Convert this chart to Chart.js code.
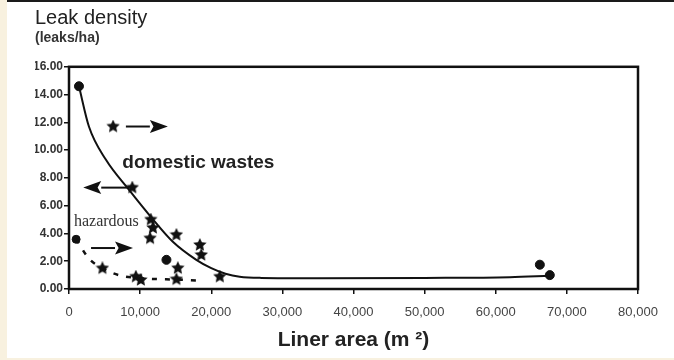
<!DOCTYPE html>
<html>
<head>
<meta charset="utf-8">
<title>Leak density vs liner area</title>
<script src="https://cdn.jsdelivr.net/npm/chart.js@4/dist/chart.umd.min.js"></script>
<style>
  html, body { margin: 0; padding: 0; background: #fff; }
  #wrap { width: 674px; height: 360px; position: relative; }
</style>
</head>
<body>
<div id="wrap"><canvas id="leakChart" width="674" height="360"></canvas></div>
<script>
// values
const xTicks = [0, 10000, 20000, 30000, 40000, 50000, 60000, 70000, 80000];
const yTicks = [0, 2, 4, 6, 8, 10, 12, 14, 16];

// domestic wastes (solid curve)
const domesticStarX = [6200, 8900, 11500, 11800, 11400, 15100, 18400, 18600, 15300, 21200];
const domesticStarY = [11.7, 7.3, 5.0, 4.4, 3.65, 3.9, 3.17, 2.45, 1.5, 0.89];
const domesticDotX = [1400, 13700, 66200, 67600];
const domesticDotY = [14.6, 2.1, 1.75, 1.0];
const domesticCurveX = [1400, 2800, 5200, 8500, 11500, 14600, 17900, 20000, 22000, 24000, 27000, 35000, 50000, 62000, 67600];
const domesticCurveY = [14.6, 11.7, 9.3, 7.1, 5.2, 3.4, 2.1, 1.5, 1.1, 0.88, 0.8, 0.78, 0.8, 0.85, 0.95];

// hazardous (dashed curve)
const hazardStarX = [4700, 9400, 10100, 15100];
const hazardStarY = [1.49, 0.89, 0.65, 0.7];
const hazardDotX = [1000];
const hazardDotY = [3.58];
const hazardCurveX = [1000, 2800, 4700, 7000, 9500, 12000, 15000, 18200];
const hazardCurveY = [3.58, 2.2, 1.5, 1.0, 0.8, 0.72, 0.68, 0.6];

// arrows drawn next to the points (data units)
const arrowFromX = [8000, 8500, 3100];
const arrowToX = [13900, 2000, 9000];
const arrowY = [11.7, 7.3, 2.95];

// text notes inside the plot
const noteText = ['domestic wastes', 'hazardous'];
const noteX = [7500, 700];
const noteY = [9.1, 4.85];

function pts(xs, ys) {
  return xs.map((x, i) => ({ x: x, y: ys[i] }));
}

// filled five point star used as marker
function makeStar(size) {
  const c = document.createElement('canvas');
  c.width = size; c.height = size;
  const g = c.getContext('2d');
  const cx = size / 2, cy = size / 2, R = size / 2, r = R * 0.48;
  g.beginPath();
  for (let i = 0; i < 10; i++) {
    const a = -Math.PI / 2 + i * Math.PI / 5;
    const rad = i % 2 === 0 ? R : r;
    g.lineTo(cx + rad * Math.cos(a), cy + rad * Math.sin(a));
  }
  g.closePath();
  g.fillStyle = '#111';
  g.fill();
  return c;
}
const star = makeStar(14);

const decor = {
  id: 'decor',
  beforeDraw(chart) {
    const ctx = chart.ctx;
    ctx.save();
    ctx.fillStyle = '#f8f1df';
    ctx.fillRect(0, 0, 7, 360);
    ctx.fillRect(0, 358, 674, 2);
    ctx.fillStyle = '#1a1a1a';
    ctx.fillRect(7, 0, 667, 2);
    ctx.restore();
  },
  afterDatasetsDraw(chart) {
    const ctx = chart.ctx;
    const xs = chart.scales.x, ys = chart.scales.y;
    const a = chart.chartArea;
    ctx.save();
    // plot frame
    ctx.strokeStyle = '#111';
    ctx.lineWidth = 2.5;
    ctx.strokeRect(a.left, a.top, a.right - a.left, a.bottom - a.top);

    // arrows
    ctx.fillStyle = '#111';
    ctx.lineWidth = 2;
    arrowY.forEach((yv, i) => {
      const x0 = xs.getPixelForValue(arrowFromX[i]);
      const x1 = xs.getPixelForValue(arrowToX[i]);
      const y = ys.getPixelForValue(yv);
      const dir = x1 > x0 ? 1 : -1;
      const head = 18;
      ctx.beginPath();
      ctx.moveTo(x0, y);
      ctx.lineTo(x1 - dir * head, y);
      ctx.stroke();
      ctx.beginPath();
      ctx.moveTo(x1, y);
      ctx.lineTo(x1 - dir * head, y - 6.5);
      ctx.lineTo(x1 - dir * head * 0.8, y);
      ctx.lineTo(x1 - dir * head, y + 6.5);
      ctx.closePath();
      ctx.fill();
    });

    // notes
    ctx.textBaseline = 'middle';
    ctx.fillStyle = '#222';
    ctx.font = 'bold 19px "Liberation Sans", Arial, sans-serif';
    ctx.fillText(noteText[0], xs.getPixelForValue(noteX[0]), ys.getPixelForValue(noteY[0]));
    ctx.font = '16px "Liberation Serif", "Times New Roman", serif';
    ctx.fillStyle = '#333';
    ctx.fillText(noteText[1], xs.getPixelForValue(noteX[1]), ys.getPixelForValue(noteY[1]));
    ctx.restore();
  }
};

const ctx = document.getElementById('leakChart').getContext('2d');
const chart = new Chart(ctx, {
  type: 'scatter',
  data: {
    datasets: [
      {
        label: 'domestic curve',
        data: pts(domesticCurveX, domesticCurveY),
        showLine: true,
        borderColor: '#111',
        borderWidth: 2,
        pointRadius: 0,
        cubicInterpolationMode: 'monotone'
      },
      {
        label: 'hazardous curve',
        data: pts(hazardCurveX, hazardCurveY),
        showLine: true,
        borderColor: '#111',
        borderWidth: 2.5,
        borderDash: [5, 8],
        pointRadius: 0,
        cubicInterpolationMode: 'monotone'
      },
      {
        label: 'domestic stars',
        data: pts(domesticStarX, domesticStarY),
        pointStyle: star,
        pointRadius: 7
      },
      {
        label: 'domestic dots',
        data: pts(domesticDotX, domesticDotY),
        pointStyle: 'circle',
        pointRadius: 4.5,
        backgroundColor: '#111',
        borderColor: '#111'
      },
      {
        label: 'hazardous stars',
        data: pts(hazardStarX, hazardStarY),
        pointStyle: star,
        pointRadius: 7
      },
      {
        label: 'hazardous dots',
        data: pts(hazardDotX, hazardDotY),
        pointStyle: 'circle',
        pointRadius: 4,
        backgroundColor: '#111',
        borderColor: '#111'
      }
    ]
  },
  options: {
    responsive: false,
    animation: false,
    layout: { padding: { left: 35, right: 36, top: 0, bottom: 0 } },
    plugins: {
      legend: { display: false },
      tooltip: { enabled: false },
      title: {
        display: true,
        text: 'Leak density',
        align: 'start',
        color: '#222',
        font: { family: '"Liberation Sans", Arial, sans-serif', size: 20, weight: 'normal' },
        padding: { top: 6, bottom: 0 }
      },
      subtitle: {
        display: true,
        text: '(leaks/ha)',
        align: 'start',
        color: '#333',
        font: { family: '"Liberation Sans", Arial, sans-serif', size: 14, weight: 'bold' },
        padding: { top: 0, bottom: 20 }
      }
    },
    scales: {
      x: {
        type: 'linear',
        min: 0,
        max: 80000,
        afterFit(scale) { scale.height = 71; },
        afterBuildTicks(scale) { scale.ticks = xTicks.map(v => ({ value: v })); },
        border: { display: false },
        grid: { drawOnChartArea: false, drawTicks: true, tickLength: 5, color: '#111', lineWidth: 1.5 },
        ticks: {
          color: '#444',
          padding: 11,
          maxRotation: 0,
          font: { family: '"Liberation Sans", Arial, sans-serif', size: 13 },
          callback: v => v.toLocaleString('en-US')
        },
        title: {
          display: true,
          text: 'Liner area (m \u00b2)',
          color: '#222',
          font: { family: '"Liberation Sans", Arial, sans-serif', size: 21, weight: 'bold' },
          padding: { top: 0, bottom: 7 }
        }
      },
      y: {
        type: 'linear',
        min: 0,
        max: 16,
        afterFit(scale) { scale.width = 34; },
        afterBuildTicks(scale) { scale.ticks = yTicks.map(v => ({ value: v })); },
        border: { display: false },
        grid: { drawOnChartArea: false, drawTicks: true, tickLength: 5, color: '#111', lineWidth: 1.5 },
        ticks: {
          color: '#333',
          padding: 1,
          font: { family: '"Liberation Sans", Arial, sans-serif', size: 12, weight: 'bold' },
          callback: v => v.toFixed(2)
        }
      }
    }
  },
  plugins: [decor]
});
</script>
</body>
</html>
